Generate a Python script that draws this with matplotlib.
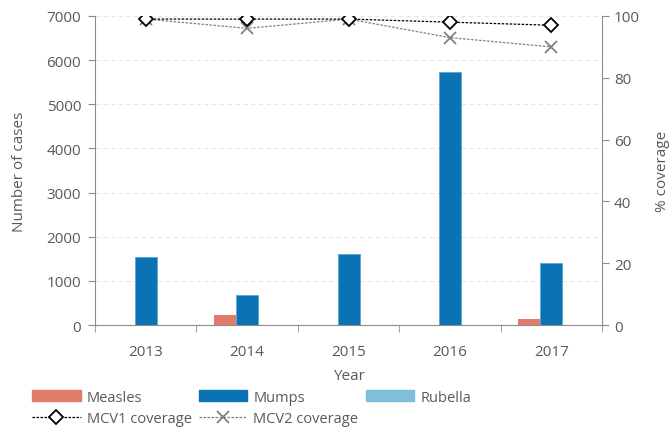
import matplotlib.pyplot as plt
import numpy as np
from matplotlib.lines import Line2D
from matplotlib.patches import Patch

years = ["2013", "2014", "2015", "2016", "2017"]
measles = [10, 220, 5, 5, 135]
mumps = [1550, 670, 1610, 5740, 1400]
rubella = [0, 1, 0, 0, 1]
mcv1 = [99, 99, 99, 98, 97]
mcv2 = [99, 96, 99, 93, 90]

plt.rcParams["font.family"] = ["Open Sans", "DejaVu Sans"]
grey = "#595959"
axis_grey = "#8c8c8c"
dash = (0, (2.0, 1.2))

fig = plt.figure(figsize=(6.69, 4.31), dpi=100)
ax = fig.add_axes([0.142, 0.2436, 0.758, 0.717])

x = np.arange(len(years))
w = 0.217
ax.bar(x - w, measles, w, color="#e07b6a", zorder=3)
ax.bar(x, mumps, w, color="#0b72b5", edgecolor="#5aa7d6", linewidth=0.6, zorder=3)
ax.bar(x + w, rubella, w, color="#7fbfdc", zorder=3)

ax.set_xlim(-0.5, len(years) - 0.5)
ax.set_ylim(0, 7000)
ax.set_yticks(range(0, 7001, 1000))
ax.set_xticks(x)
ax.set_xticklabels(years)
ax.set_xticks(np.arange(-0.5, len(years), 1), minor=True)
ax.tick_params(axis="x", which="major", length=0, pad=14, labelsize=11, labelcolor=grey)
ax.tick_params(axis="x", which="minor", length=5, color=axis_grey, direction="out")
ax.tick_params(axis="y", length=5, pad=5, color=axis_grey, labelsize=11, labelcolor=grey)
ax.yaxis.grid(True, linestyle=(0, (4, 3)), color="#e6e6e6", linewidth=0.8, zorder=0)
ax.set_axisbelow(True)
ax.set_ylabel("Number of cases", color=grey, fontsize=11, labelpad=14)
ax.set_xlabel("Year", color=grey, fontsize=11, labelpad=6)
for s in ["top", "right"]:
    ax.spines[s].set_visible(False)
for s in ["left", "bottom"]:
    ax.spines[s].set_color(axis_grey)

ax2 = ax.twinx()
ax2.set_ylim(0, 100)
ax2.set_yticks(range(0, 101, 20))
ax2.plot(x, mcv1, color="black", linestyle=dash, linewidth=0.9,
         marker="D", markersize=7, markerfacecolor="white", markeredgecolor="black",
         markeredgewidth=1.3, zorder=5)
ax2.plot(x, mcv2, color="#808080", linestyle=dash, linewidth=0.9,
         marker="x", markersize=9, markeredgecolor="#808080", markeredgewidth=1.3, zorder=4)
ax2.tick_params(axis="y", length=5, color=axis_grey, labelsize=11, labelcolor=grey)
ax2.set_ylabel("% coverage", color=grey, fontsize=11, labelpad=11)
for s in ["top", "left", "bottom"]:
    ax2.spines[s].set_visible(False)
ax2.spines["right"].set_color(axis_grey)

handles = [
    Patch(color="#e07b6a", label="Measles"),
    Line2D([], [], color="black", linestyle=dash, linewidth=0.9, marker="D",
           markersize=7, markerfacecolor="white", markeredgecolor="black",
           markeredgewidth=1.3, label="MCV1 coverage"),
    Patch(color="#0b72b5", label="Mumps"),
    Line2D([], [], color="#808080", linestyle=dash, linewidth=0.9, marker="x",
           markersize=9, markeredgecolor="#808080", markeredgewidth=1.3, label="MCV2 coverage"),
    Patch(color="#7fbfdc", label="Rubella"),
]
leg = fig.legend(handles=handles, ncol=3, loc="lower left", bbox_to_anchor=(0.031, -0.018),
                 frameon=False, fontsize=10.5, handlelength=3.3, handleheight=0.8,
                 columnspacing=0.5, handletextpad=0.43, labelspacing=0.45,
                 borderpad=0.3)
for t in leg.get_texts():
    t.set_color(grey)

fig.savefig("out.png", dpi=100)
